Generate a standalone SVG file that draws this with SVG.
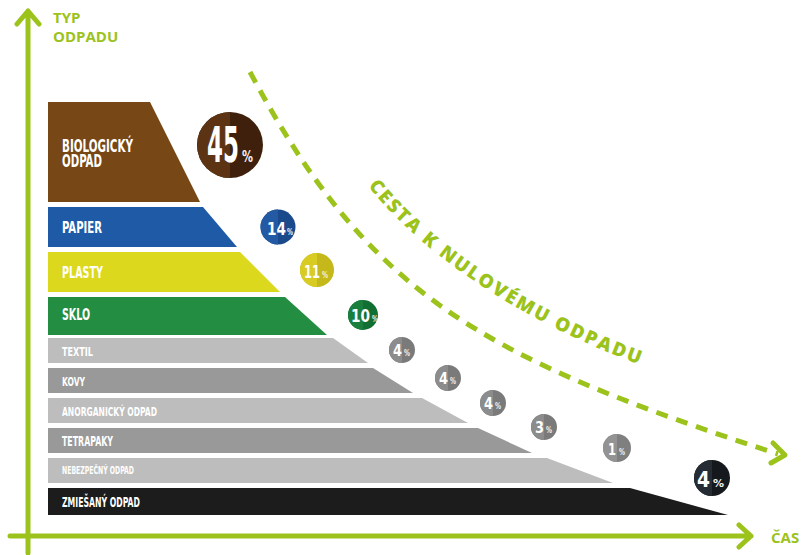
<svg xmlns="http://www.w3.org/2000/svg" width="807" height="555" viewBox="0 0 807 555">
<style>
.axis{stroke:#9cc31c;stroke-width:5;fill:none;stroke-linecap:round;stroke-linejoin:round}
.ax-t{font-family:"Open Sans","DejaVu Sans",sans-serif;font-weight:bold;fill:#9cc31c;font-size:15px}
.lbl{font-family:"DejaVu Sans Condensed","DejaVu Sans",sans-serif;font-weight:bold;fill:#ffffff}
.num{font-family:"DejaVu Sans Condensed","DejaVu Sans",sans-serif;font-weight:bold;fill:#ffffff}
.pct{fill:#f2f2f2}
.path{stroke:#9cc31c;stroke-width:5;fill:none;stroke-dasharray:12 9}
.path-t{font-family:"Open Sans","DejaVu Sans",sans-serif;font-weight:800;fill:#9cc31c;font-size:19px;letter-spacing:2px}
</style>
<defs>
<path id="txtpath" d="M 368,186 C 422,254 522,324 655,370"/>
</defs>
<rect width="807" height="555" fill="#ffffff"/>

<g id="axes">
<path class="axis" d="M28,553 V11 M17,24 L28,11 L39,24"/>
<path class="axis" d="M10,536 H751 M739,525 L751,536 L739,547"/>
<text class="ax-t" x="53" y="23">TYP</text>
<text class="ax-t" x="53" y="42">ODPADU</text>
<text class="ax-t" x="771" y="543">ČAS</text>
</g>

<g id="connectors">
<path class="path" d="M250,72 C367,292 476,356 778,454"/>
<path class="axis" d="M773,443 L785,455 L771,463"/>
<text class="path-t"><textPath href="#txtpath" textLength="330" lengthAdjust="spacing">CESTA K NULOVÉMU ODPADU</textPath></text>
</g>

<g id="biologicky">
<polygon points="48,102 150,102 200,202 48,202" fill="#774716"/>
<text class="lbl" x="62" y="152" font-size="17" textLength="71" lengthAdjust="spacingAndGlyphs">BIOLOGICKÝ</text>
<text class="lbl" x="62" y="167" font-size="17" textLength="40" lengthAdjust="spacingAndGlyphs">ODPAD</text>
</g>
<g id="papier">
<polygon points="48,207 203,207 237,247 48,247" fill="#1f5aa7"/>
<text class="lbl" x="62" y="233" font-size="15" textLength="40" lengthAdjust="spacingAndGlyphs">PAPIER</text>
</g>
<g id="plasty">
<polygon points="48,252 240,252 280,292 48,292" fill="#dcd81d"/>
<text class="lbl" x="62" y="278" font-size="15" textLength="41" lengthAdjust="spacingAndGlyphs">PLASTY</text>
</g>
<g id="sklo">
<polygon points="48,297 285,297 327,335 48,335" fill="#238e41"/>
<text class="lbl" x="62" y="320" font-size="15" textLength="28" lengthAdjust="spacingAndGlyphs">SKLO</text>
</g>
<g id="textil">
<polygon points="48,338 333,338 368,363 48,363" fill="#bdbdbd"/>
<text class="lbl" x="62" y="356" font-size="13" textLength="31" lengthAdjust="spacingAndGlyphs" fill="#eeeeee">TEXTIL</text>
</g>
<g id="kovy">
<polygon points="48,368 373,368 413,393 48,393" fill="#999999"/>
<text class="lbl" x="62" y="386" font-size="13" textLength="23" lengthAdjust="spacingAndGlyphs">KOVY</text>
</g>
<g id="anorganicky">
<polygon points="48,398 422,398 468,423 48,423" fill="#bdbdbd"/>
<text class="lbl" x="62" y="416" font-size="13" textLength="95" lengthAdjust="spacingAndGlyphs">ANORGANICKÝ ODPAD</text>
</g>
<g id="tetrapaky">
<polygon points="48,428 478,428 532,453 48,453" fill="#999999"/>
<text class="lbl" x="62" y="446" font-size="14" textLength="51" lengthAdjust="spacingAndGlyphs">TETRAPAKY</text>
</g>
<g id="nebezpecny">
<polygon points="48,458 547,458 613,483 48,483" fill="#bdbdbd"/>
<text class="lbl" x="62" y="474" font-size="10" textLength="72" lengthAdjust="spacingAndGlyphs">NEBEZPEČNÝ ODPAD</text>
</g>
<g id="zmiesany">
<polygon points="48,488 630,488 728,515 48,515" fill="#1c1c1c"/>
<text class="lbl" x="62" y="507" font-size="14" textLength="78" lengthAdjust="spacingAndGlyphs">ZMIEŠANÝ ODPAD</text>
</g>

<g id="c45">
<circle cx="230" cy="145" r="33" fill="#3e200c"/>
<path d="M230,112 A33,33 0 0 0 230,178 Z" fill="#5c3414"/>
<text class="num" y="162"><tspan x="207" font-size="50" textLength="32" lengthAdjust="spacingAndGlyphs">45</tspan><tspan class="pct" x="242" font-size="15" textLength="11" lengthAdjust="spacingAndGlyphs">%</tspan></text>
</g>
<g id="c14">
<circle cx="278" cy="227" r="17.5" fill="#1b4a8c"/>
<path d="M278,209.5 A17.5,17.5 0 0 0 278,244.5 Z" fill="#235aa3"/>
<text class="num" y="235"><tspan x="267" font-size="18" textLength="19" lengthAdjust="spacingAndGlyphs">14</tspan><tspan class="pct" x="287" font-size="9" textLength="6" lengthAdjust="spacingAndGlyphs">%</tspan></text>
</g>
<g id="c11">
<circle cx="317" cy="270" r="17" fill="#c4b81a"/>
<path d="M317,253 A17,17 0 0 0 317,287 Z" fill="#d8cc22"/>
<text class="num" y="278"><tspan x="304" font-size="18" textLength="16" lengthAdjust="spacingAndGlyphs">11</tspan><tspan class="pct" x="322" font-size="9" textLength="6" lengthAdjust="spacingAndGlyphs">%</tspan></text>
</g>
<g id="c10">
<circle cx="363" cy="315" r="15" fill="#126f34"/>
<path d="M363,300 A15,15 0 0 0 363,330 Z" fill="#1a7e3c"/>
<text class="num" y="322"><tspan x="351" font-size="17" textLength="19" lengthAdjust="spacingAndGlyphs">10</tspan><tspan class="pct" x="372" font-size="8" textLength="6" lengthAdjust="spacingAndGlyphs">%</tspan></text>
</g>
<g id="c4a">
<circle cx="402" cy="350" r="13" fill="#7a7a7a"/>
<path d="M402,337 A13,13 0 0 0 402,363 Z" fill="#8c8c8c"/>
<text class="num" y="356"><tspan x="393" font-size="15" textLength="9" lengthAdjust="spacingAndGlyphs">4</tspan><tspan class="pct" x="404" font-size="8" textLength="6" lengthAdjust="spacingAndGlyphs">%</tspan></text>
</g>
<g id="c4b">
<circle cx="448" cy="378" r="13" fill="#7a7a7a"/>
<path d="M448,365 A13,13 0 0 0 448,391 Z" fill="#8c8c8c"/>
<text class="num" y="384"><tspan x="439" font-size="15" textLength="9" lengthAdjust="spacingAndGlyphs">4</tspan><tspan class="pct" x="450" font-size="8" textLength="6" lengthAdjust="spacingAndGlyphs">%</tspan></text>
</g>
<g id="c4c">
<circle cx="493" cy="403" r="13" fill="#7a7a7a"/>
<path d="M493,390 A13,13 0 0 0 493,416 Z" fill="#8c8c8c"/>
<text class="num" y="409"><tspan x="484" font-size="15" textLength="9" lengthAdjust="spacingAndGlyphs">4</tspan><tspan class="pct" x="495" font-size="8" textLength="6" lengthAdjust="spacingAndGlyphs">%</tspan></text>
</g>
<g id="c3">
<circle cx="544" cy="427" r="13" fill="#7a7a7a"/>
<path d="M544,414 A13,13 0 0 0 544,440 Z" fill="#8c8c8c"/>
<text class="num" y="433"><tspan x="535" font-size="15" textLength="9" lengthAdjust="spacingAndGlyphs">3</tspan><tspan class="pct" x="546" font-size="8" textLength="6" lengthAdjust="spacingAndGlyphs">%</tspan></text>
</g>
<g id="c1">
<circle cx="617" cy="448" r="14" fill="#7f7f7f"/>
<path d="M617,434 A14,14 0 0 0 617,462 Z" fill="#939393"/>
<text class="num" y="455"><tspan x="608" font-size="16" textLength="8" lengthAdjust="spacingAndGlyphs">1</tspan><tspan class="pct" x="619" font-size="8" textLength="6" lengthAdjust="spacingAndGlyphs">%</tspan></text>
</g>
<g id="c4d">
<circle cx="712" cy="478" r="18" fill="#15191d"/>
<path d="M712,460 A18,18 0 0 0 712,496 Z" fill="#252c33"/>
<text class="num" y="487"><tspan x="697" font-size="21" textLength="13" lengthAdjust="spacingAndGlyphs">4</tspan><tspan class="pct" x="713" font-size="11" textLength="11" lengthAdjust="spacingAndGlyphs">%</tspan></text>
</g>
</svg>
